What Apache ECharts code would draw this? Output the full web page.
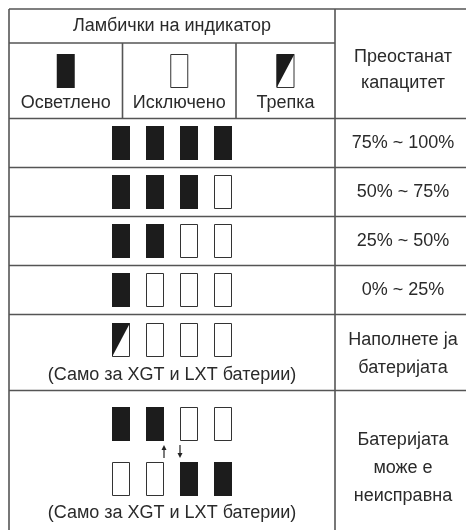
<!DOCTYPE html>
<html><head><meta charset="utf-8">
<script src="https://cdn.jsdelivr.net/npm/echarts@6/dist/echarts.min.js"></script>
<style>html,body{margin:0;padding:0;background:#fff}#c{width:466px;height:530px}</style>
</head><body><div id="c"></div><script>
// ---- data ----
const headerTitle = 'Ламбички на индикатор';
const capacityHeader = ['Преостанат', 'капацитет'];
const legendStates = ['on', 'off', 'blink'];
const legendLabels = ['Осветлено', 'Исключено', 'Трепка'];
const rowLabels = [
  ['75% ~ 100%'], ['50% ~ 75%'], ['25% ~ 50%'], ['0% ~ 25%'],
  ['Наполнете ја', 'батеријата'],
  ['Батеријата', 'може е', 'неисправна']
];
const rowLamps = [
  [['on', 'on', 'on', 'on']],
  [['on', 'on', 'on', 'off']],
  [['on', 'on', 'off', 'off']],
  [['on', 'off', 'off', 'off']],
  [['blink', 'off', 'off', 'off']],
  [['on', 'on', 'off', 'off'], ['off', 'off', 'on', 'on']]
];
const rowNotes = ['', '', '', '', '(Само за XGT и LXT батерии)', '(Само за XGT и LXT батерии)'];
const rowArrows = [false, false, false, false, false, true];

// ---- layout (pixel units on hidden value axes) ----
const L = {
  left: 9, top: 9, split: 335, right: 471, head1: 43, headBottom: 118.5,
  legendSplits: [122.5, 236],
  rowBounds: [118.5, 167.5, 216.5, 265.5, 314.5, 390.5, 546],
  lampW: 18, lampH: 34, pitch: 34, groupCenter: 172, rightCenter: 403,
  lineH: 28, headLineH: 26, headCenter: 70, font: 18
};
const TEXT = '#2a2a2a', LINE = '#555', FILL = '#1c1c1c';
const stateCode = { on: 0, off: 1, blink: 2 };

function lampYs(r) {
  const top = L.rowBounds[r], bot = L.rowBounds[r + 1];
  if (rowLamps[r].length === 2) return [top + 33.5, top + 88.5];
  if (rowNotes[r]) return [top + 25.5];
  return [(top + bot) / 2];
}

// ---- build series data ----
const lines = [];
lines.push([L.left, L.top, L.right, L.top]);
lines.push([L.left, L.head1, L.split, L.head1]);
L.rowBounds.forEach(y => lines.push([L.left, y, L.right, y]));
lines.push([L.left, L.top, L.left, L.rowBounds[L.rowBounds.length - 1]]);
lines.push([L.split, L.top, L.split, L.rowBounds[L.rowBounds.length - 1]]);
lines.push([L.right, L.top, L.right, L.rowBounds[L.rowBounds.length - 1]]);
L.legendSplits.forEach(x => lines.push([x, L.head1, x, L.headBottom]));

const legendCenters = [
  (L.left + L.legendSplits[0]) / 2,
  (L.legendSplits[0] + L.legendSplits[1]) / 2,
  (L.legendSplits[1] + L.split) / 2
];

const lamps = [];
legendStates.forEach((s, i) => lamps.push([legendCenters[i], 71, stateCode[s]]));
rowLamps.forEach((sets, r) => {
  const ys = lampYs(r);
  sets.forEach((set, k) => {
    set.forEach((s, j) => {
      const x = L.groupCenter + (j - (set.length - 1) / 2) * L.pitch;
      lamps.push([x, ys[k], stateCode[s]]);
    });
  });
});

const arrows = [];
rowArrows.forEach((a, r) => {
  if (!a) return;
  const y = L.rowBounds[r] + 61;
  arrows.push([L.groupCenter - L.pitch / 2 + L.lampW / 2, y, 1]);
  arrows.push([L.groupCenter + L.pitch / 2 - L.lampW / 2, y, -1]);
});

const texts = [];
texts.push({ x: (L.left + L.split) / 2, y: (L.top + L.head1) / 2, t: headerTitle });
legendLabels.forEach((t, i) => texts.push({ x: legendCenters[i], y: 103, t }));
capacityHeader.forEach((t, i) => texts.push({
  x: L.rightCenter, y: L.headCenter + (i - (capacityHeader.length - 1) / 2) * L.headLineH, t
}));
rowLabels.forEach((ls, r) => {
  const c = (L.rowBounds[r] + L.rowBounds[r + 1]) / 2 + (ls.length === 2 ? 2 : 0);
  ls.forEach((t, i) => texts.push({ x: L.rightCenter, y: c + (i - (ls.length - 1) / 2) * L.lineH, t }));
  if (rowNotes[r]) {
    const off = rowLamps[r].length === 2 ? 122.5 : 61;
    texts.push({ x: L.groupCenter, y: L.rowBounds[r] + off, t: rowNotes[r] });
  }
});

// ---- chart ----
const chart = echarts.init(document.getElementById('c'), null, { renderer: 'canvas' });
chart.setOption({
  animation: false,
  backgroundColor: '#fff',
  grid: { left: 0, right: 0, top: 0, bottom: 0 },
  xAxis: { type: 'value', min: 0, max: 466, show: false },
  yAxis: { type: 'value', min: 0, max: 530, inverse: true, show: false },
  series: [
    {
      type: 'custom', clip: false, data: lines,
      renderItem: (p, api) => {
        const a = api.coord([api.value(0), api.value(1)]);
        const b = api.coord([api.value(2), api.value(3)]);
        return { type: 'line', shape: { x1: a[0], y1: a[1], x2: b[0], y2: b[1] },
          style: { stroke: LINE, lineWidth: 1.6 } };
      }
    },
    {
      type: 'custom', clip: false, data: lamps,
      renderItem: (p, api) => {
        const c = api.coord([api.value(0), api.value(1)]);
        const s = api.size([L.lampW, L.lampH]);
        const x = c[0] - s[0] / 2, y = c[1] - s[1] / 2, w = s[0], h = s[1];
        const st = api.value(2);
        if (st === 0) return { type: 'rect', shape: { x, y, width: w, height: h }, style: { fill: FILL } };
        const children = [{ type: 'rect', shape: { x: x + 0.5, y: y + 0.5, width: w - 1, height: h - 1 },
          style: { fill: '#fff', stroke: '#333', lineWidth: 1 } }];
        if (st === 2) children.push({ type: 'polygon',
          shape: { points: [[x, y], [x + w, y], [x, y + h]] }, style: { fill: FILL } });
        return { type: 'group', children };
      }
    },
    {
      type: 'custom', clip: false, data: arrows,
      renderItem: (p, api) => {
        const c = api.coord([api.value(0), api.value(1)]);
        const d = api.value(2);
        const half = 6.5;
        const tip = c[1] - d * half;
        return { type: 'group', children: [
          { type: 'line', shape: { x1: c[0], y1: c[1] + d * half, x2: c[0], y2: tip + d * 3 },
            style: { stroke: '#222', lineWidth: 1.2 } },
          { type: 'polygon', shape: { points: [[c[0], tip], [c[0] - 2.5, tip + d * 5], [c[0] + 2.5, tip + d * 5]] },
            style: { fill: '#222' } }
        ] };
      }
    },
    {
      type: 'custom', clip: false, data: texts.map(t => [t.x, t.y]),
      renderItem: (p, api) => {
        const c = api.coord([api.value(0), api.value(1)]);
        return { type: 'text', x: c[0], y: c[1], style: {
          text: texts[p.dataIndex].t, fill: TEXT, align: 'center', verticalAlign: 'middle',
          font: L.font + 'px "Liberation Sans", Arial, sans-serif' } };
      }
    }
  ]
});
</script></body></html>
